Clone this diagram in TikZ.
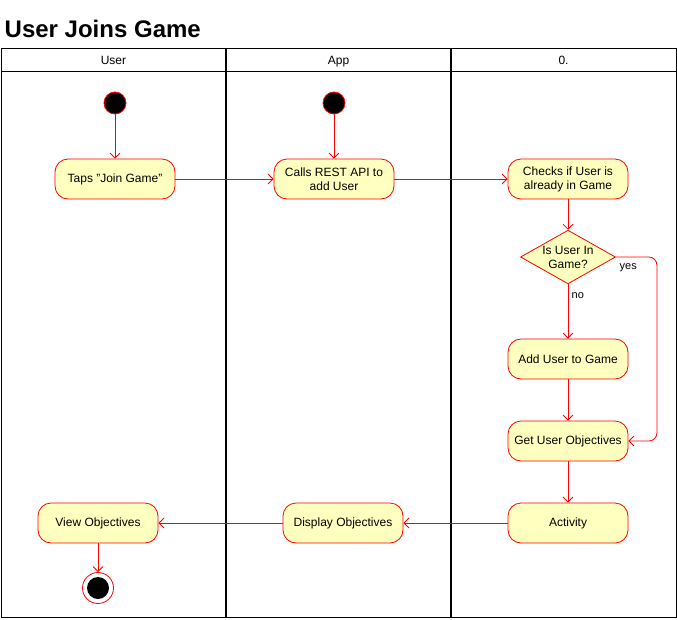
\documentclass[tikz,border=0pt]{standalone}
\usepackage{fontspec}
\setmainfont{Liberation Sans}
\usetikzlibrary{shapes.geometric,arrows.meta}
\definecolor{actfill}{HTML}{FFFFC0}

\begin{document}
\begin{tikzpicture}[x=1pt, y=-1pt, thick,
                    act/.style={rectangle,rounded corners=13pt,draw=red,fill=actfill,
                      minimum width=120pt,minimum height=40pt,align=center,
                      font=\fontsize{12}{14}\selectfont},
                    decision/.style={diamond,draw=red,fill=actfill,inner sep=-5pt,
                      minimum width=95pt,minimum height=52pt,align=center,
                      font=\fontsize{12}{14}\selectfont},
                    start/.style={circle,draw=red,fill=black,minimum size=22pt,inner sep=0pt},
                    flow/.style={draw=red,line width=0.8pt,-{Straight Barb[length=5pt,width=10pt]}},
                    lane/.style={draw=black,line width=1pt},
                    head/.style={anchor=base,font=\fontsize{12}{14}\selectfont}]

  \useasboundingbox (0,0) rectangle (677,619);

  % title and lanes
  \node[anchor=west,font=\fontsize{24}{27}\bfseries] (title) at (1,29) {User Joins Game};
  \draw[lane] (1,48) rectangle (676,617);
  \draw[lane] (1,71) -- (676,71);
  \draw[lane,line width=1.5pt] (226,48) -- (226,617);
  \draw[lane,line width=1.5pt] (451,48) -- (451,617);
  \node[head] (user) at (113.5,64) {User};
  \node[head] (app) at (338.5,64) {App};
  \node[head] (server) at (563.5,64) {0.};

  % activities
  \node[start] (s1) at (115,103) {};
  \node[start] (s2) at (334,103) {};
  \node[act] (taps) at (115,179) {Taps "Join Game"};
  \node[act] (calls) at (334,179) {Calls REST API to\\add User};
  \node[act] (checks) at (568,179) {Checks if User is\\already in Game};
  \node[decision] (dec) at (568,257) {Is User In\\Game?};
  \node[act] (add) at (568,359) {Add User to Game};
  \node[act] (get) at (568,441) {Get User Objectives};
  \node[act] (activity) at (568,523) {Activity};
  \node[act] (display) at (343,523) {Display Objectives};
  \node[act] (view) at (98,523) {View Objectives};
  \node[circle,draw=red,fill=white,minimum size=31pt,inner sep=0pt] (end) at (98,588) {};
  \node[circle,fill=black,minimum size=22pt,inner sep=0pt] (endin) at (end) {};

  % flows
  \path[flow]
    (s1) edge (taps)
    (s2) edge (calls)
    (taps) edge (calls)
    (calls) edge (checks)
    (checks) edge (dec)
    (dec) edge node[pos=0.2,right,font=\fontsize{11}{13}\selectfont] {no} (add)
    (add) edge (get)
    (get) edge (activity)
    (activity) edge (display)
    (display) edge (view)
    (view) edge (end);
  \draw[flow,rounded corners=8pt] (dec.east) -- ++(41,0)
    node[pos=0.3,below=3pt,font=\fontsize{11}{13}\selectfont] {yes} |- (get.east);
\end{tikzpicture}
\end{document}
